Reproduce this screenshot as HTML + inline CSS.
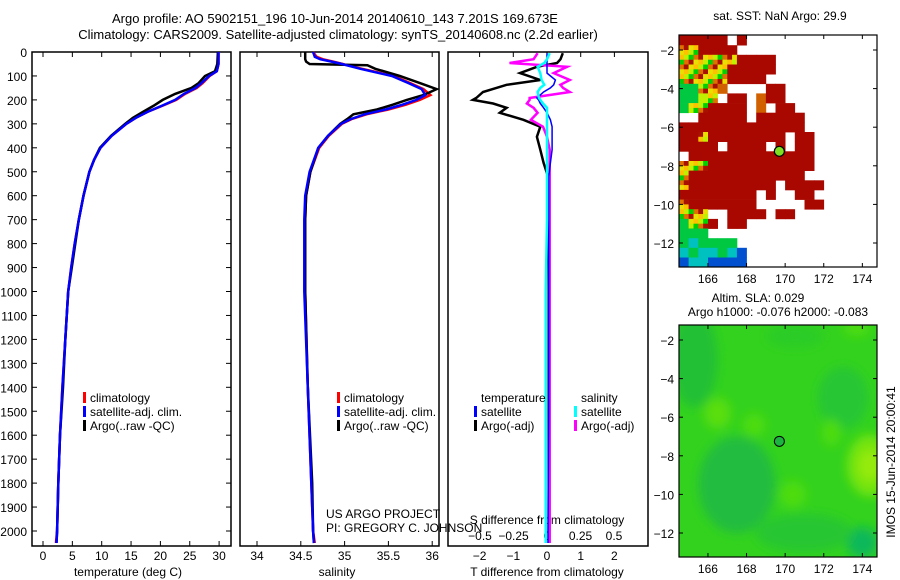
<!DOCTYPE html>
<html><head><meta charset="utf-8"><style>
html,body{margin:0;padding:0;background:#fff;}
svg{display:block;font-family:"Liberation Sans",sans-serif;}
text{fill:#000;}
</style></head><body>
<svg id="fig" width="900" height="580" viewBox="0 0 900 580" xmlns="http://www.w3.org/2000/svg">
<defs>
<clipPath id="clip2"><rect x="679" y="325" width="198" height="232"/></clipPath>
<filter id="blur2" x="-20%" y="-20%" width="140%" height="140%"><feGaussianBlur stdDeviation="5"/></filter>
</defs>
<rect width="900" height="580" fill="#fff"/>
<text x="335" y="23" font-size="13" text-anchor="middle">Argo profile: AO 5902151_196 10-Jun-2014 20140610_143 7.201S 169.673E</text>
<text x="338" y="39" font-size="13" text-anchor="middle">Climatology: CARS2009. Satellite-adjusted climatology: synTS_20140608.nc (2.2d earlier)</text>
<g id="g1"></g>
<g id="g2"></g>
<g id="g3"></g>
<g id="m1"></g>
<g id="m2"></g>
<text x="780" y="20" font-size="12" text-anchor="middle">sat. SST: NaN Argo: 29.9</text>
<text x="758" y="302" font-size="12" text-anchor="middle">Altim. SLA: 0.029</text>
<text x="778" y="316" font-size="12" text-anchor="middle">Argo h1000: -0.076 h2000: -0.083</text>
<text transform="translate(895,462) rotate(-90)" font-size="12" text-anchor="middle">IMOS 15-Jun-2014 20:00:41</text>
</svg>
<script>
// ---- data ----
const depthT=[0,50,80,100,130,150,175,200,225,250,275,300,350,400,450,500,600,700,800,900,1000,1200,1400,1600,1800,2000,2050];
const tempArgo=[29.8,29.7,29.3,27.6,26.5,25.3,22.5,20.4,18.8,17,15.3,14,11.6,9.7,8.7,7.9,6.9,6.1,5.5,4.9,4.3,3.8,3.4,2.9,2.6,2.4,2.3];
const tempClim=[29.9,29.9,29.6,28.4,27.2,26.2,24.2,22.7,20.3,17.8,15.8,14.2,11.7,9.8,8.7,7.9,6.9,6.1,5.4,4.8,4.3,3.8,3.3,2.9,2.6,2.4,2.2];
const tempSat=[29.9,29.9,29.6,28.3,27.0,26.0,24.0,22.5,20.2,17.8,15.8,14.2,11.7,9.8,8.7,7.9,6.9,6.1,5.4,4.8,4.3,3.8,3.3,2.9,2.6,2.4,2.3];
const depthS=[0,20,30,40,50,55,70,100,130,155,180,200,220,240,260,280,300,350,400,500,600,700,1000,1400,1800,2000,2050];
const salArgo=[34.55,34.55,34.55,34.56,34.6,35.26,35.35,35.63,35.86,36.05,35.9,35.71,35.55,35.37,35.1,35.03,34.95,34.81,34.70,34.61,34.56,34.55,34.55,34.58,34.63,34.64,34.65];
const salClim=[34.64,34.68,34.75,34.87,34.98,35.03,35.2,35.56,35.75,35.9,35.98,35.86,35.7,35.5,35.25,35.08,34.97,34.82,34.71,34.61,34.56,34.55,34.55,34.58,34.62,34.64,34.66];
const salSat=[34.64,34.66,34.72,34.85,34.97,35.02,35.18,35.54,35.73,35.88,35.92,35.82,35.66,35.47,35.23,35.07,34.96,34.81,34.70,34.60,34.55,34.54,34.54,34.58,34.62,34.64,34.65];
const depthD=[5,30,46,62,88,117,137,150,167,192,200,215,233,254,283,312,354,408,463,520,700,1000,1500,2000,2050];
const tDiffArgo=[0.47,0.4,0.3,-0.3,-0.8,-0.2,-1.2,-1.5,-1.9,-2.1,-2.2,-1.6,-1.2,-1.4,-0.7,-0.2,-0.3,-0.2,-0.1,0.03,0.05,0.05,0.05,0.05,0.05];
const sDiffArgo=[-0.07,-0.1,-0.28,0.15,0.05,0.17,0.1,0.12,0.17,-0.13,-0.13,-0.15,-0.1,-0.07,-0.12,-0.03,0,0.02,0.02,0.02,0.02,0.02,0.02,0.02,0.02];
const tDiffSat=[0,0,0,0,0,0.25,0.2,0.1,-0.1,-0.3,-0.25,-0.2,-0.1,0,0.1,0.15,0.15,0.15,0.1,0.05,0.05,0.05,0.05,0.03,0.03];
const sDiffSat=[0.02,0,-0.02,-0.07,-0.05,-0.04,-0.02,-0.05,-0.07,-0.06,-0.05,-0.03,0,0,0,0,0,0,0,0,0,-0.01,-0.01,-0.01,-0.01];
const depthTicks=[0,100,200,300,400,500,600,700,800,900,1000,1100,1200,1300,1400,1500,1600,1700,1800,1900,2000];
const tempTicks=[0,5,10,15,20,25,30];
const salTicks=[34,34.5,35,35.5,36];
const salTickLabels=["34","34.5","35","35.5","36"];
const tdTicks=[-2,-1,0,1,2];
const tdTickLabels=["\u22122","\u22121","0","1","2"];
const sdTicks=[-0.5,-0.25,0,0.25,0.5];
const sdTickLabels=["\u22120.5","\u22120.25","0","0.25","0.5"];
const lonTicks=[166,168,170,172,174];
const latTicks=[-2,-4,-6,-8,-10,-12];
const argoLon=169.7, argoLat=-7.25;
const sstGrid=[
"RRRRR.R..............",
"MMRRRR...............",
"MMMMMMRRRR...........",
"MMMMMRRRRR...........",
"MMMMMRRRR............",
"GGMMO....RR..........",
"GGYM.RR.ORR..........",
"GMMRRRR.O.RR.........",
"..RRRRR.RRRRR........",
"RRRRRRRRRRRRR........",
"RRMRRRRRRRR.RR.......",
"RRRR.RRRR.R.RR.......",
".RRRRRRRRRRRRR.......",
"MMMRRRRRRRRRRR.......",
"MRRRRRRRRRRRR........",
"MRRRRRRRRR.RRRR......",
"RRRRRRRR.R..RR.......",
"MRRRRRRR.....RR......",
"MMM..RRRR.RR.........",
"GMMR.RR..............",
"GGG..................",
"GCGGGG...............",
"CGCCGCB..............",
"BCCBBBB.............."];
// ---- helpers ----
const NS="http://www.w3.org/2000/svg";
function mk(parent,tag,attrs){const e=document.createElementNS(NS,tag);for(const k in attrs)e.setAttribute(k,attrs[k]);parent.appendChild(e);return e;}
function txt(parent,x,y,s,size,anchor){const t=mk(parent,"text",{x:x,y:y,"font-size":size,"text-anchor":anchor||"start"});t.textContent=s;return t;}
const Y0=52, PY=0.2395;
const yD=d=>Y0+d*PY;
const PB=546;
function panelBox(g,x0,x1){
  const r=mk(g,"rect",{x:x0,y:Y0,width:x1-x0,height:PB-Y0,fill:"none",stroke:"#000","stroke-width":1.5});
  
  
}
function line(g,xs,ds,fx,color,w,name){
  const p=xs.map((v,i)=>fx(v).toFixed(1)+","+yD(ds[i]).toFixed(1)).join(" ");
  const l=mk(g,"polyline",{points:p,fill:"none",stroke:color,"stroke-width":w,"stroke-linejoin":"miter"});
  
  
}
function legend(g,x,y,items){
  items.forEach((it,i)=>{
    const m=mk(g,"rect",{x:x,y:y+i*14-10,width:3,height:11,fill:it[1]});
    
    
    const t=txt(g,x+7,y+i*14,it[0],12);
    
    
  });
}
// ---- panel 1 temperature ----
const g1=document.getElementById("g1");
const xT=v=>43+v*5.87;
panelBox(g1,32,231);
depthTicks.forEach(d=>{
  const t=txt(g1,27,yD(d)+5,String(d),12,"end");
  
  
  mk(g1,"line",{x1:32,x2:37,y1:yD(d),y2:yD(d),stroke:"#000"});
  mk(g1,"line",{x1:226,x2:231,y1:yD(d),y2:yD(d),stroke:"#000"});
});
tempTicks.forEach(v=>{
  const t=txt(g1,xT(v),560,String(v),12,"middle");
  
  
  mk(g1,"line",{x1:xT(v),x2:xT(v),y1:PB,y2:PB-5,stroke:"#000"});
  mk(g1,"line",{x1:xT(v),x2:xT(v),y1:Y0,y2:Y0+5,stroke:"#000"});
});
{const t=txt(g1,128,576,"temperature (deg C)",12,"middle");}
line(g1,tempClim,depthT,xT,"#f00",2.5,"temp-climatology-line");
line(g1,tempArgo,depthT,xT,"#000",2.5,"temp-argo-line");
line(g1,tempSat,depthT,xT,"#00f",2.5,"temp-satellite-line");
legend(g1,83,402,[["climatology","#f00"],["satellite-adj. clim.","#00f"],["Argo(..raw -QC)","#000"]]);
// ---- panel 2 salinity ----
const g2=document.getElementById("g2");
const xS=v=>257+(v-34)*87.6;
panelBox(g2,240,439);
salTicks.forEach((v,i)=>{
  const t=txt(g2,xS(v),560,salTickLabels[i],12,"middle");
  
  
  mk(g2,"line",{x1:xS(v),x2:xS(v),y1:PB,y2:PB-5,stroke:"#000"});
  mk(g2,"line",{x1:xS(v),x2:xS(v),y1:Y0,y2:Y0+5,stroke:"#000"});
});
{const t=txt(g2,337,576,"salinity",12,"middle");}
line(g2,salClim,depthS,xS,"#f00",2.5,"sal-climatology-line");
line(g2,salArgo,depthS,xS,"#000",2.5,"sal-argo-line");
line(g2,salSat,depthS,xS,"#00f",2.5,"sal-satellite-line");
legend(g2,337,402,[["climatology","#f00"],["satellite-adj. clim.","#00f"],["Argo(..raw -QC)","#000"]]);
{const t=txt(g2,326,518,"US ARGO PROJECT",12);
 const t2=txt(g2,326,532,"PI: GREGORY C. JOHNSON",12);}
// ---- panel 3 differences ----
const g3=document.getElementById("g3");
const xTD=v=>547+v*33.7;
const xSD=v=>547+v*134;
panelBox(g3,448,648);
tdTicks.forEach((v,i)=>{
  const t=txt(g3,xTD(v),560,tdTickLabels[i],12,"middle");
  
  
  mk(g3,"line",{x1:xTD(v),x2:xTD(v),y1:Y0,y2:Y0+5,stroke:"#000"});
});
sdTicks.forEach((v,i)=>{
  const t=txt(g3,xSD(v),540,sdTickLabels[i],12,"middle");
  
  
});
{const t=txt(g3,547,524,"S difference from climatology",12,"middle");
 const t2=txt(g3,547,576,"T difference from climatology",12,"middle");}
line(g3,tDiffArgo,depthD,xTD,"#000",2.5,"t-diff-argo-line");
line(g3,sDiffArgo,depthD,xSD,"#f0f",2.5,"s-diff-argo-line");
line(g3,tDiffSat,depthD,xTD,"#00f",1.5,"t-diff-satellite-line");
line(g3,sDiffSat,depthD,xSD,"#0ff",2.5,"s-diff-satellite-line");
{const t=txt(g3,481,402,"temperature",12);
 const t2=txt(g3,581,402,"salinity",12);}
legend(g3,474,416,[["satellite","#00f"],["Argo(-adj)","#000"]]);
legend(g3,574,416,[["satellite","#0ff"],["Argo(-adj)","#f0f"]]);
// ---- maps ----
const MX0=679,MX1=877,LON0=164.5,PXD=19.3;
const xL=lon=>MX0+(lon-LON0)*PXD;
function mapAxes(g,top,bottom,latM2){
  const yLat=lat=>latM2+(-2-lat)*PXD;
  lonTicks.forEach(v=>{
    mk(g,"line",{x1:xL(v),x2:xL(v),y1:bottom,y2:bottom-4,stroke:"#000"});
    mk(g,"line",{x1:xL(v),x2:xL(v),y1:top,y2:top+4,stroke:"#000"});
    const t=txt(g,xL(v),bottom+16,String(v),12,"middle");
    
    
  });
  latTicks.forEach(v=>{
    mk(g,"line",{x1:MX0,x2:MX0+4,y1:yLat(v),y2:yLat(v),stroke:"#000"});
    mk(g,"line",{x1:MX1,x2:MX1-4,y1:yLat(v),y2:yLat(v),stroke:"#000"});
    const t=txt(g,674,yLat(v)+5,"\u2212"+String(-v),12,"end");
    
    
  });
  const r=mk(g,"rect",{x:MX0,y:top,width:MX1-MX0,height:bottom-top,fill:"none",stroke:"#000","stroke-width":1.2});
  
  
  return yLat;
}
// map 1 SST
const m1=document.getElementById("m1");
const T1=35,B1=267,LAT1=50;
const colors={R:"#a80800",O:"#d06000",G:"#00c840",Y:"#c0f000",C:"#00c0c0",B:"#0050d0"};
const mix=["#ffc000","#c0f000","#00d000","#e07000","#a81000","#e8e000"];
const yLat1=lat=>LAT1+(-2-lat)*PXD;
sstGrid.forEach((row,r)=>{
  [...row].forEach((ch,c)=>{
    if(ch===".")return;
    const lon=LON0+c*0.5, lat=-1.25-r*0.5;
    const x=xL(lon), y=yLat1(lat);
    if(ch==="M"){
      for(let k=0;k<4;k++){
        const cell=mk(m1,"rect",{x:(x+(k%2)*PXD/4).toFixed(1),y:(y+Math.floor(k/2)*PXD/4).toFixed(1),width:(PXD/4+0.3).toFixed(1),height:(PXD/4+0.3).toFixed(1),fill:mix[(r*3+c*2+k)%mix.length]});
        
        
      }
    } else {
      const cell=mk(m1,"rect",{x:x.toFixed(1),y:y.toFixed(1),width:(PXD/2+0.3).toFixed(1),height:(PXD/2+0.3).toFixed(1),fill:colors[ch]});
      
      
    }
  });
});
mapAxes(m1,T1,B1,LAT1);
{const c=mk(m1,"circle",{cx:xL(argoLon),cy:yLat1(argoLat),r:5,fill:"#7ee020",stroke:"#000","stroke-width":1.2});
 }
// map 2 SLA
const m2=document.getElementById("m2");
const T2=325,B2=557,LAT2=340;
const yLat2=lat=>LAT2+(-2-lat)*PXD;
const clipG=mk(m2,"g",{"clip-path":"url(#clip2)"});


{const bg=mk(clipG,"rect",{x:MX0,y:T2,width:MX1-MX0,height:B2-T2,fill:"#33d21e"});}
const blurG=mk(clipG,"g",{filter:"url(#blur2)"});


const blobs=[[165.3,-3,1.2,2.5,"#22c036"],[167.5,-9.5,2,2.5,"#20bc40"],[173,-5,1.3,1.6,"#26c634"],[174,-12.5,0.8,0.8,"#10b85a"],[170.5,-1.8,1.5,0.6,"#2ccc28"],[171,-12,2.5,1,"#28c630"],
 [166.5,-5.8,0.7,0.8,"#5ade10"],[168.4,-6.4,0.6,0.6,"#4edc10"],[172.4,-6.8,0.5,0.7,"#4edc10"],[170.4,-10,0.7,0.7,"#4edc10"],[174.4,-8.5,1.2,1.6,"#74e410"],[174.4,-8.5,0.6,0.8,"#96ea08"],[173.7,-1.4,0.7,0.4,"#4edc10"]];
blobs.forEach(b=>{
  const e=mk(blurG,"ellipse",{cx:xL(b[0]),cy:yLat2(b[1]),rx:b[2]*PXD,ry:b[3]*PXD,fill:b[4]});
  
  
});
mapAxes(m2,T2,B2,LAT2);
{const c=mk(m2,"circle",{cx:xL(argoLon),cy:yLat2(argoLat),r:5,fill:"#1cb440",stroke:"#000","stroke-width":1});
 }
</script>
</body></html>
